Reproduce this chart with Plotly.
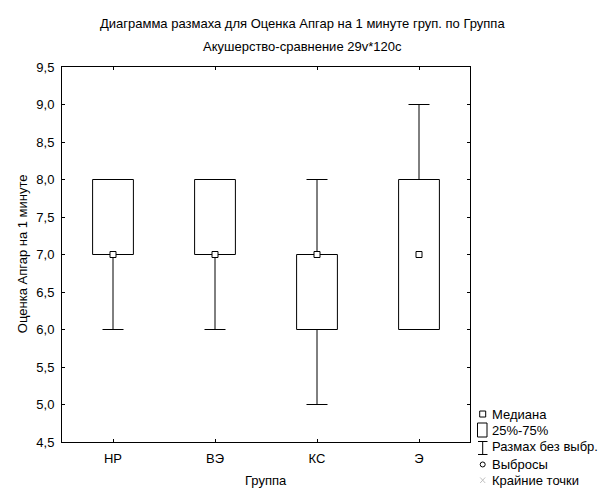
import plotly.graph_objects as go

# ---- data ----
groups = ["НР", "ВЭ", "КС", "Э"]
q1 = [7, 7, 6, 6]
median = [7, 7, 7, 7]
q3 = [8, 8, 7, 8]
mins = [6, 6, 5, 6]
maxs = [8, 8, 8, 9]
y_ticks = [4.5, 5.0, 5.5, 6.0, 6.5, 7.0, 7.5, 8.0, 8.5, 9.0, 9.5]

title1 = "Диаграмма размаха для Оценка Апгар на 1 минуте груп. по Группа"
title2 = "Акушерство-сравнение 29v*120c"
x_title = "Группа"
y_title = "Оценка Апгар на 1 минуте"
legend_labels = ["Медиана", "25%-75%", "Размах без выбр.", "Выбросы", "Крайние точки"]

FONT = "Liberation Sans, Arial, sans-serif"
FS = 13
W, H = 605, 491
L, R, T, B = 62, 470, 66.7, 442

xpos = list(range(len(groups)))

fig = go.Figure()

# boxes (25%-75%)
fig.add_trace(go.Bar(
    x=xpos, y=[b - a for a, b in zip(q1, q3)], base=q1, width=0.4,
    marker=dict(color="white", line=dict(color="black", width=1)),
    hoverinfo="skip", showlegend=False,
))

# upper whiskers
fig.add_trace(go.Scatter(
    x=xpos, y=q3, mode="markers", marker=dict(size=1, color="rgba(0,0,0,0)"),
    error_y=dict(type="data", symmetric=False,
                 array=[m - q for m, q in zip(maxs, q3)],
                 arrayminus=[0] * len(groups),
                 color="black", thickness=1, width=10.5),
    hoverinfo="skip", showlegend=False,
))
# lower whiskers
fig.add_trace(go.Scatter(
    x=xpos, y=q1, mode="markers", marker=dict(size=1, color="rgba(0,0,0,0)"),
    error_y=dict(type="data", symmetric=False,
                 array=[0] * len(groups),
                 arrayminus=[q - m for q, m in zip(q1, mins)],
                 color="black", thickness=1, width=10.5),
    hoverinfo="skip", showlegend=False,
))
# medians
fig.add_trace(go.Scatter(
    x=xpos, y=median, mode="markers",
    marker=dict(symbol="square", size=6, color="white",
                line=dict(color="black", width=1)),
    hoverinfo="skip", showlegend=False,
))


def px2x(px):
    return (px - L) / (R - L)


def py2y(py):
    return (B - py) / (B - T)


shapes = []
annotations = []


def text(t, px, py, anchor="center", angle=0):
    annotations.append(dict(text=t, x=px2x(px), xref="paper", y=py2y(py), yref="paper",
                            showarrow=False, textangle=angle,
                            font=dict(size=FS, family=FONT, color="black"),
                            xanchor=anchor, yanchor="middle"))


# titles
text(title1, 302.5, 23)
text(title2, 302.5, 46)
# axis titles
text(x_title, 266, 481)
text(y_title, 22, 254, angle=-90)

# legend
rows_y = [414, 430.5, 447, 464.5, 480.5]
cx = 482.7
for lab, yy in zip(legend_labels, rows_y):
    text(lab, 489.5, yy, anchor="left")

line = dict(color="black", width=1)
# median symbol
shapes.append(dict(type="rect", xref="paper", yref="paper",
                   x0=px2x(cx - 3), x1=px2x(cx + 3), y0=py2y(417), y1=py2y(411), line=line))
# box symbol
shapes.append(dict(type="rect", xref="paper", yref="paper",
                   x0=px2x(477.5), x1=px2x(487), y0=py2y(437), y1=py2y(423), line=line))
# whisker symbol
shapes.append(dict(type="line", xref="paper", yref="paper",
                   x0=px2x(cx), x1=px2x(cx), y0=py2y(441.5), y1=py2y(454.5), line=line))
shapes.append(dict(type="line", xref="paper", yref="paper",
                   x0=px2x(478), x1=px2x(487.5), y0=py2y(441.5), y1=py2y(441.5), line=line))
shapes.append(dict(type="line", xref="paper", yref="paper",
                   x0=px2x(478), x1=px2x(487.5), y0=py2y(454.5), y1=py2y(454.5), line=line))
# outlier symbol
shapes.append(dict(type="circle", xref="paper", yref="paper",
                   x0=px2x(cx - 2.5), x1=px2x(cx + 2.5), y0=py2y(467), y1=py2y(462), line=line))
# extreme symbol (faint)
gl = dict(color="#c0c0c0", width=1)
shapes.append(dict(type="line", xref="paper", yref="paper",
                   x0=px2x(cx - 2.5), x1=px2x(cx + 2.5), y0=py2y(477.5), y1=py2y(483), line=gl))
shapes.append(dict(type="line", xref="paper", yref="paper",
                   x0=px2x(cx - 2.5), x1=px2x(cx + 2.5), y0=py2y(483), y1=py2y(477.5), line=gl))

fig.update_layout(
    width=W, height=H,
    margin=dict(l=L, r=W - R, t=T, b=H - B, pad=0),
    paper_bgcolor="white", plot_bgcolor="white",
    font=dict(family=FONT, size=FS, color="black"),
    separators=", ",
    showlegend=False,
    hovermode=False,
    shapes=shapes, annotations=annotations,
    xaxis=dict(range=[-0.5, len(groups) - 0.5], tickvals=xpos, ticktext=groups,
               showgrid=False, zeroline=False, showline=True, linecolor="black", linewidth=1,
               mirror="allticks", ticks="inside", ticklen=3, tickcolor="black",
               ticklabelstandoff=4),
    yaxis=dict(range=[4.5, 9.5], tickvals=y_ticks, tickformat=".1f",
               showgrid=False, zeroline=False, showline=True, linecolor="black", linewidth=1,
               mirror="allticks", ticks="inside", ticklen=3, tickcolor="black",
               ticklabelstandoff=4),
)

fig.write_html("out.html", config={"displayModeBar": False},
               post_script="document.body.style.margin='0';document.body.style.padding='0';")
